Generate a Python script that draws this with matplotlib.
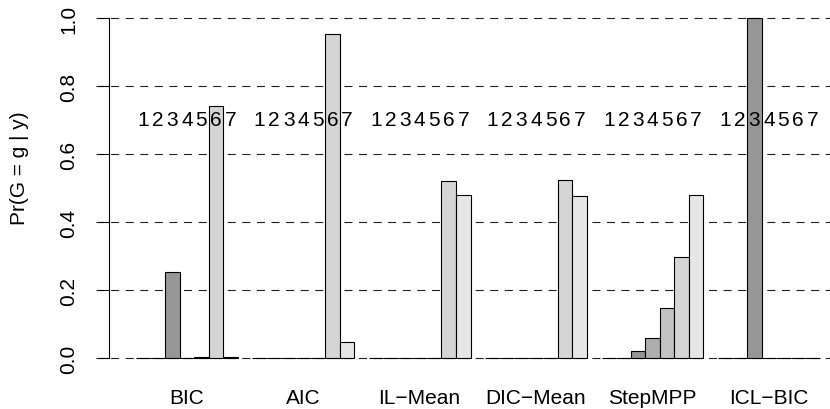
import numpy as np
import matplotlib.pyplot as plt

plt.rcParams['font.family'] = ['Liberation Sans', 'DejaVu Sans']
plt.rcParams['lines.scale_dashes'] = False

# posterior probability of each number of groups, per selection method
methods = ['BIC', 'AIC', 'IL\u2212Mean', 'DIC\u2212Mean', 'StepMPP', 'ICL\u2212BIC']
groups = ['1', '2', '3', '4', '5', '6', '7']

bic = [0, 0, 0.253, 0, 0.002, 0.742, 0.003]
aic = [0, 0, 0, 0, 0, 0.953, 0.047]
il_mean = [0, 0, 0, 0, 0, 0.522, 0.478]
dic_mean = [0, 0, 0, 0, 0, 0.524, 0.476]
step_mpp = [0, 0, 0.020, 0.058, 0.146, 0.296, 0.480]
icl_bic = [0, 0, 1.0, 0, 0, 0, 0]

probs = np.array([bic, aic, il_mean, dic_mean, step_mpp, icl_bic])
yticks = [0.0, 0.2, 0.4, 0.6, 0.8, 1.0]

# same shades as R's gray.colors(7)
lo, hi = 0.3 ** 2.2, 0.9 ** 2.2
shades = np.linspace(lo, hi, len(groups)) ** (1 / 2.2)
colors = [(s, s, s) for s in shades]

fig = plt.figure(figsize=(8.3, 4.1), dpi=100)
ax = fig.add_axes([96 / 830, 37.4 / 410, 734 / 830, 367.2 / 410])

n = len(groups)
centers = []
for i, row in enumerate(probs):
    start = i * (n + 1) + 1
    xs = start + np.arange(n) + 0.5
    centers.append(xs.mean())
    ax.bar(xs, row, width=1, color=colors, edgecolor='black', linewidth=0.8, zorder=2)
    for x, g in zip(xs, groups):
        ax.text(x, 0.7, g, ha='center', va='center', fontsize=15, zorder=3)

for v in yticks:
    ax.axhline(v, color='#222222', linewidth=0.8, linestyle=(0, (5.8, 4.7)), zorder=1)

ax.set_xlim(-1.742, 48.70)
ax.set_ylim(-0.04, 1.04)

for side in ['top', 'right', 'bottom']:
    ax.spines[side].set_visible(False)
ax.spines['left'].set_position(('data', -0.88))
ax.spines['left'].set_bounds(0, 1)
ax.spines['left'].set_linewidth(0.8)

ax.set_yticks(yticks)
ax.set_yticklabels(['%.1f' % v for v in yticks])
ax.tick_params(axis='y', length=7, width=0.8, pad=15, labelsize=15, labelrotation=90)
for lab in ax.get_yticklabels():
    lab.set_va('center')

ax.set_xticks(centers)
ax.set_xticklabels(methods)
ax.tick_params(axis='x', length=0, pad=12, labelsize=15)

ax.set_ylabel('Pr(G = g | y)', fontsize=15)
ax.yaxis.set_label_coords((20 - 96) / 734, 0.558)
ax.yaxis.label.set_va('center')

fig.savefig('out.png', dpi=100)
